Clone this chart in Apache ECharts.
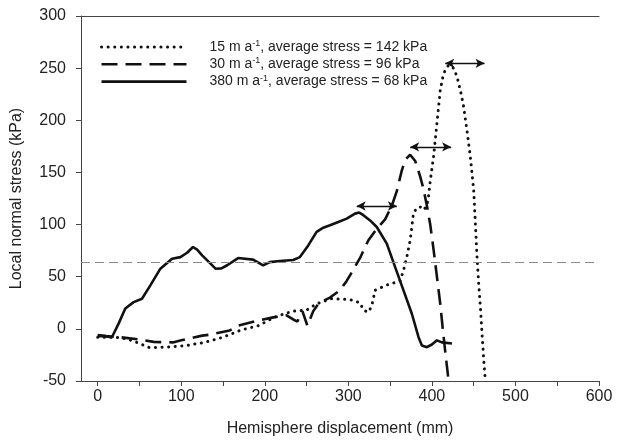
<!DOCTYPE html>
<html><head><meta charset="utf-8">
<script src="https://cdn.jsdelivr.net/npm/echarts@6/dist/echarts.min.js"></script>
<style>html,body{margin:0;padding:0;background:#fff}#c{width:618px;height:445px}</style>
</head><body><div id="c"></div>
<script>
// 15 m a-1 (dotted)
const xDotted = [0, 20, 30, 40, 50, 62, 82, 106, 128, 150, 172, 192, 214, 234, 250, 262, 280, 302, 314, 318, 324, 328, 332, 346, 362, 366, 370, 374, 378, 382, 386, 390, 394, 396, 398, 402, 404, 406, 410, 414, 420, 426, 430, 434, 438, 442, 446, 450, 452, 454, 456, 458, 460, 462, 464];
const yDotted = [-8, -8, -9, -11, -14, -18, -17.5, -16, -13, -8, -1, 3, 12, 17, 18, 24, 29, 28, 25, 18, 16, 22, 37, 42, 46, 56, 69, 85, 111, 116, 117, 114, 118, 127, 142, 165, 181, 197, 229, 245, 253, 250, 242, 229, 213, 190, 165, 133, 101, 69, 43, 21, -5, -30, -50];
// 30 m a-1 (dashed)
const xDashed = [0, 10, 27, 53, 67, 90, 100, 125, 135, 158, 168, 190, 210, 226, 234, 239, 245, 251, 258, 265, 278, 290, 298, 304, 314, 324, 334, 344, 352, 358, 364, 368, 374, 380, 386, 390, 394, 398, 402, 406, 410, 413, 416, 420];
const yDashed = [-6, -7, -8, -10.5, -12.5, -13, -11, -6.5, -5.5, -1.5, 3, 7.5, 11, 13, 9, 7, 17, 3, 17, 25, 30, 37, 46, 54, 68, 85, 96, 105, 118, 132, 152, 162, 167, 161, 146, 134, 118, 100, 76, 50, 24, 0, -22, -50];
// 380 m a-1 (solid)
const xSolid = [0, 8, 17, 25, 33, 43, 53, 63, 75, 89, 99, 107, 114, 119, 125, 135, 141, 148, 155, 168, 186, 198, 206, 218, 234, 242, 252, 262, 270, 278, 288, 298, 308, 313, 318, 326, 334, 346, 356, 366, 376, 384, 388, 394, 400, 406, 412, 424];
const ySolid = [-7, -7, -8, 5, 19.6, 25.6, 28.9, 41.7, 57.7, 67.3, 68.8, 73, 78.5, 76, 70.5, 62.5, 57.7, 58, 61, 67.9, 66.4, 60.9, 64, 65, 66, 68.8, 80, 93, 97, 99.3, 102.5, 105.7, 110.5, 111.5, 109, 104, 97.7, 81.7, 59.2, 36.9, 14.5, -8, -16, -17.6, -15, -11, -13, -14];

const rates = ['15', '30', '380'];
const avgStress = [142, 96, 68];
const refStress = 63.5;
const arrowFrom = [416, 374, 310];
const arrowTo = [463, 423, 358];
const arrowLevel = [254.6, 174.5, 117.8];
const xLabelTicks = [0, 100, 200, 300, 400, 500, 600];
const xAllTicks = [0, 50, 100, 150, 200, 250, 300, 350, 400, 450, 500, 550, 600];

const FONT = '"Liberation Sans", Arial, sans-serif';
const names = rates.map((r, i) => r + ' m a-1, average stress = ' + avgStress[i] + ' kPa');
const pairs = (xs, ys) => xs.map((x, i) => [x, ys[i]]);

const styleDotted = {color: '#111', width: 3, type: [0.1, 6.5], cap: 'round'};
const styleDashed = {color: '#111', width: 2.6, type: [16, 8], cap: 'butt'};
const styleSolid = {color: '#111', width: 2.6, type: 'solid'};
const hiddenSym = {color: 'rgba(0,0,0,0)', borderWidth: 0, opacity: 0};

const chart = echarts.init(document.getElementById('c'), null, {renderer: 'canvas'});
const arrowData = arrowFrom.map((f, i) => [
  {coord: [f, arrowLevel[i]]},
  {coord: [arrowTo[i], arrowLevel[i]]}
]);

chart.setOption({
  animation: false,
  backgroundColor: '#fff',
  textStyle: {fontFamily: FONT},
  grid: {left: 81, right: 19, top: 16, bottom: 64},
  legend: {
    orient: 'vertical', left: 95, top: 34,
    itemWidth: 85, itemHeight: 12, itemGap: 2.3,
    data: [
      {name: names[0], lineStyle: styleDotted, itemStyle: hiddenSym},
      {name: names[1], lineStyle: styleDashed, itemStyle: hiddenSym},
      {name: names[2], lineStyle: styleSolid, itemStyle: hiddenSym}
    ],
    itemStyle: hiddenSym,
    selectedMode: false,
    formatter: function (name) {
      const i = names.indexOf(name);
      return '{n|' + rates[i] + ' m a}{s|-1}{n|, average stress = ' + avgStress[i] + ' kPa}';
    },
    textStyle: {
      padding: [0, 0, 0, 18],
      rich: {
        n: {fontSize: 14, color: '#222', fontFamily: FONT, lineHeight: 16},
        s: {fontSize: 9, color: '#222', fontFamily: FONT, verticalAlign: 'top', lineHeight: 16, padding: [0, 0, 6, 0]}
      }
    }
  },
  xAxis: [{
    type: 'value', min: -20, max: 600,
    name: 'Hemisphere displacement (mm)', nameLocation: 'middle', nameGap: 40,
    nameTextStyle: {fontSize: 16, color: '#222', fontFamily: FONT},
    axisLine: {show: true, onZero: false, lineStyle: {color: '#444', width: 1}},
    axisTick: {show: true, length: 5, customValues: xAllTicks, lineStyle: {color: '#444'}},
    axisLabel: {customValues: xLabelTicks, fontSize: 16, color: '#222', margin: 8, fontFamily: FONT},
    splitLine: {show: false}
  }, {
    type: 'value', min: -20, max: 600, position: 'top',
    axisLine: {show: true, onZero: false, lineStyle: {color: '#444', width: 1}},
    axisTick: {show: false}, axisLabel: {show: false}, splitLine: {show: false}
  }],
  yAxis: {
    type: 'value', min: -50, max: 300, interval: 50,
    name: 'Local normal stress (kPa)', nameLocation: 'middle', nameGap: 56,
    nameTextStyle: {fontSize: 16, color: '#222', fontFamily: FONT},
    axisLine: {show: true, onZero: false, lineStyle: {color: '#444', width: 1}},
    axisTick: {show: true, length: 5, lineStyle: {color: '#444'}},
    axisLabel: {fontSize: 16, color: '#222', margin: 15, fontFamily: FONT},
    splitLine: {show: false}
  },
  series: [{
    name: names[0], type: 'line', data: pairs(xDotted, yDotted), symbol: 'none', silent: true,
    lineStyle: styleDotted, itemStyle: {color: '#111'}
  }, {
    name: names[1], type: 'line', data: pairs(xDashed, yDashed), symbol: 'none', silent: true,
    lineStyle: styleDashed, itemStyle: {color: '#111'},
    markLine: {
      silent: true, symbol: 'none', label: {show: false},
      lineStyle: {color: '#888', type: [9, 5], width: 1.2},
      data: [{yAxis: refStress}]
    }
  }, {
    name: names[2], type: 'line', data: pairs(xSolid, ySolid), symbol: 'none', silent: true,
    lineStyle: styleSolid, itemStyle: {color: '#111'},
    markLine: {
      silent: true, symbol: ['arrow', 'arrow'], symbolSize: [7, 9], label: {show: false},
      lineStyle: {color: '#111', type: 'solid', width: 1.3},
      data: arrowData
    }
  }]
});
</script></body></html>
